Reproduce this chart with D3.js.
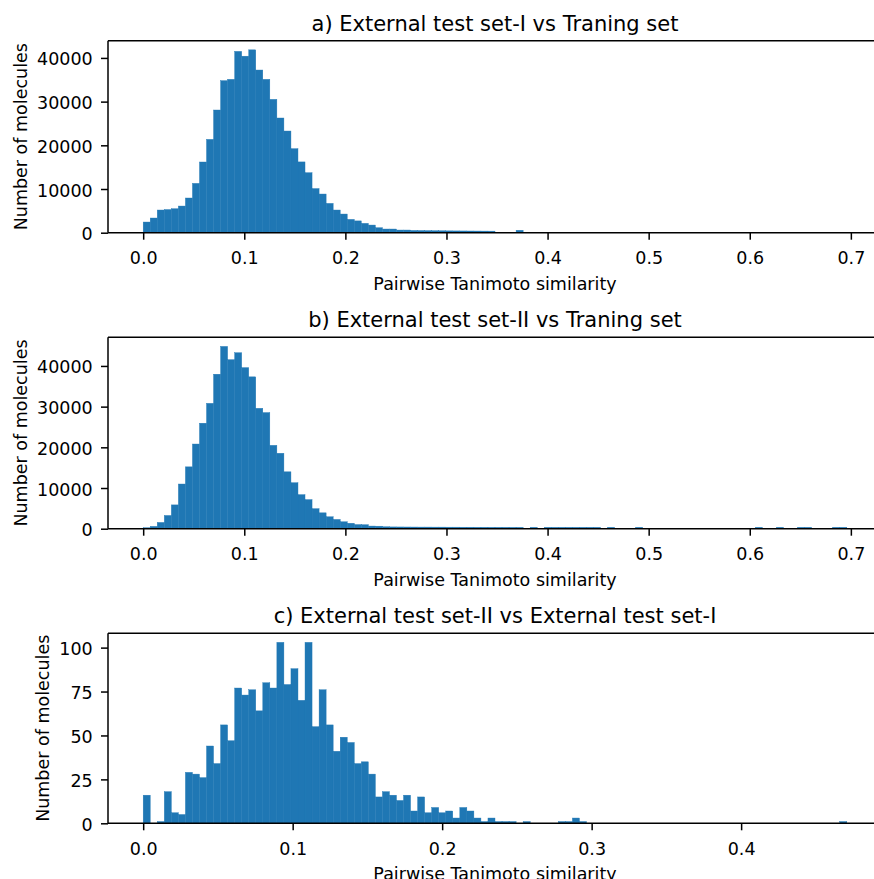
<!DOCTYPE html>
<html>
<head>
<meta charset="utf-8">
<script src="https://cdn.jsdelivr.net/npm/d3@7"></script>
<style>
  html, body { margin: 0; padding: 0; background: #ffffff; }
  svg { display: block; font-family: "DejaVu Sans", sans-serif; }
</style>
</head>
<body>
<svg id="chart" width="874" height="879"></svg>
<script>
// ---- data: 100-bin histograms of pairwise Tanimoto similarity ----
const titles = [
  "a) External test set-I vs Traning set",
  "b) External test set-II vs Traning set",
  "c) External test set-II vs External test set-I"
];
const xLabel = "Pairwise Tanimoto similarity";
const yLabel = "Number of molecules";

// similarity range covered by each histogram (min, max)
const rangeA = [0, 0.696];
const rangeB = [0, 0.696];
const rangeC = [0, 0.4707];

const countsA = [
  2440, 3360, 5190, 5300, 5490, 6100, 7940, 11290, 16180, 21360,
  28080, 34800, 35100, 41500, 40400, 41850, 37230, 35100, 30520, 26250,
  23270, 19230, 16200, 13730, 10100, 8850, 6710, 5190, 4270, 3050,
  2700, 2140, 1750, 1140, 840, 840, 610, 610, 520, 500,
  480, 460, 440, 420, 410, 400, 390, 380, 370, 360,
  60, 40, 30, 560, 15, 10, 8, 6, 5, 4,
  3, 3, 2, 2, 2, 1, 1, 1, 1, 1,
  2, 0, 0, 1, 0, 0, 0, 1, 0, 0,
  0, 0, 0, 0, 0, 1, 0, 0, 0, 0,
  0, 0, 0, 0, 0, 0, 0, 0, 0, 1
];

const countsB = [
  240, 570, 1540, 3250, 5850, 10980, 15200, 20810, 25930, 30810,
  37970, 44800, 41540, 43250, 39590, 37320, 29590, 28540, 20490, 18540,
  13980, 11300, 8370, 7150, 4920, 3900, 2930, 2280, 1700, 1340,
  1020, 980, 650, 620, 480, 440, 430, 420, 410, 400,
  400, 390, 390, 380, 380, 370, 370, 360, 360, 350,
  350, 350, 340, 340, 0, 350, 0, 350, 350, 350,
  350, 350, 350, 350, 350, 0, 350, 0, 0, 0,
  350, 0, 0, 0, 0, 0, 0, 0, 0, 0,
  0, 0, 0, 0, 0, 0, 0, 350, 0, 0,
  350, 0, 0, 350, 350, 0, 0, 0, 350, 350
];

const countsC = [
  16, 0, 1, 18, 6, 5, 29, 28, 26, 44,
  34, 56, 47, 77, 73, 76, 64, 80, 77, 103,
  79, 88, 70, 103, 55, 76, 56, 41, 49, 46,
  34, 35, 28, 15, 18, 16, 13, 16, 7, 15,
  6, 9, 6, 7, 3, 9, 7, 3, 1, 3,
  1, 1, 1, 0, 1, 0, 0, 0, 0, 1,
  1, 3, 1, 0, 0, 0, 0, 0, 0, 0,
  0, 0, 0, 0, 0, 0, 0, 0, 0, 0,
  0, 0, 0, 0, 0, 0, 0, 0, 0, 0,
  0, 0, 0, 0, 0, 0, 0, 0, 0, 1
];

// axis tick values
const xTicksWide = [0, 0.1, 0.2, 0.3, 0.4, 0.5, 0.6, 0.7];
const xTicksNarrow = [0, 0.1, 0.2, 0.3, 0.4];
const yTicksLarge = [0, 10000, 20000, 30000, 40000];
const yTicksSmall = [0, 25, 50, 75, 100];

// ---- layout ----
const barColor = "#1f77b4";
const axLeft = 108, axWidth = 774;
const tickLen = 7, spineW = 1.5;
const tickFont = 17.5, titleFont = 21;

const panels = [
  { title: titles[0], counts: countsA, range: rangeA, xTicks: xTicksWide, yTicks: yTicksLarge, top: 40.7, height: 192 },
  { title: titles[1], counts: countsB, range: rangeB, xTicks: xTicksWide, yTicks: yTicksLarge, top: 337.3, height: 191.4 },
  { title: titles[2], counts: countsC, range: rangeC, xTicks: xTicksNarrow, yTicks: yTicksSmall, top: 633.3, height: 190 }
];

const svg = d3.select("#chart");
svg.append("rect").attr("width", 874).attr("height", 879).attr("fill", "#ffffff");

panels.forEach(p => {
  const [lo, hi] = p.range;
  const span = hi - lo;
  const nBins = p.counts.length;
  const bw = span / nBins;
  const maxCount = d3.max(p.counts);

  const x = d3.scaleLinear()
    .domain([lo - 0.05 * span, hi + 0.05 * span])
    .range([0, axWidth]);
  const y = d3.scaleLinear()
    .domain([0, maxCount * 1.05])
    .range([p.height, 0]);

  const g = svg.append("g").attr("transform", `translate(${axLeft},${p.top})`);

  // histogram bars (thin same-colour outline hides seams between neighbours)
  g.append("g").selectAll("rect")
    .data(p.counts)
    .join("rect")
    .attr("x", (d, i) => x(lo + i * bw))
    .attr("width", (d, i) => x(lo + (i + 1) * bw) - x(lo + i * bw))
    .attr("y", d => y(d))
    .attr("height", d => y(0) - y(d))
    .attr("fill", barColor)
    .attr("stroke", d => d > 0 ? barColor : "none")
    .attr("stroke-width", 0.4);

  // x axis
  const xAxis = g.append("g")
    .attr("transform", `translate(0,${p.height})`)
    .call(d3.axisBottom(x).tickValues(p.xTicks).tickSize(tickLen).tickFormat(d3.format(".1f")));
  xAxis.select(".domain").remove();
  xAxis.selectAll(".tick line").attr("stroke", "#000").attr("stroke-width", spineW);
  xAxis.selectAll(".tick text")
    .attr("y", 31.5).attr("dy", null)
    .attr("fill", "#000").attr("font-size", tickFont)
    .attr("font-family", "DejaVu Sans");

  // y axis
  const yAxis = g.append("g")
    .call(d3.axisLeft(y).tickValues(p.yTicks).tickSize(tickLen).tickFormat(d3.format("d")));
  yAxis.select(".domain").remove();
  yAxis.selectAll(".tick line").attr("stroke", "#000").attr("stroke-width", spineW);
  const yTickText = yAxis.selectAll(".tick text")
    .attr("x", -(tickLen + 8.3)).attr("dy", null).attr("y", 7)
    .attr("fill", "#000").attr("font-size", tickFont)
    .attr("font-family", "DejaVu Sans");

  // spines
  const spines = g.append("g").attr("stroke", "#000").attr("stroke-width", spineW).attr("fill", "none");
  spines.append("line").attr("x1", 0).attr("x2", 0).attr("y1", 0).attr("y2", p.height);
  spines.append("line").attr("x1", axWidth).attr("x2", axWidth).attr("y1", 0).attr("y2", p.height);
  spines.append("line").attr("x1", 0).attr("x2", axWidth).attr("y1", 0).attr("y2", 0);
  spines.append("line").attr("x1", 0).attr("x2", axWidth).attr("y1", p.height).attr("y2", p.height);

  // title
  g.append("text")
    .attr("x", axWidth / 2).attr("y", -10)
    .attr("text-anchor", "middle")
    .attr("font-size", titleFont).attr("fill", "#000")
    .text(p.title);

  // x label
  g.append("text")
    .attr("x", axWidth / 2).attr("y", p.height + 57)
    .attr("text-anchor", "middle")
    .attr("font-size", tickFont).attr("fill", "#000")
    .text(xLabel);

  // y label, placed just left of the widest tick label
  let widest = 0;
  yTickText.each(function () { widest = Math.max(widest, this.getComputedTextLength()); });
  const labelX = -(tickLen + 8.3) - widest - 10.5;
  g.append("text")
    .attr("transform", `translate(${labelX},${p.height / 2}) rotate(-90)`)
    .attr("text-anchor", "middle")
    .attr("font-size", tickFont).attr("fill", "#000")
    .text(yLabel);
});
</script>
</body>
</html>
